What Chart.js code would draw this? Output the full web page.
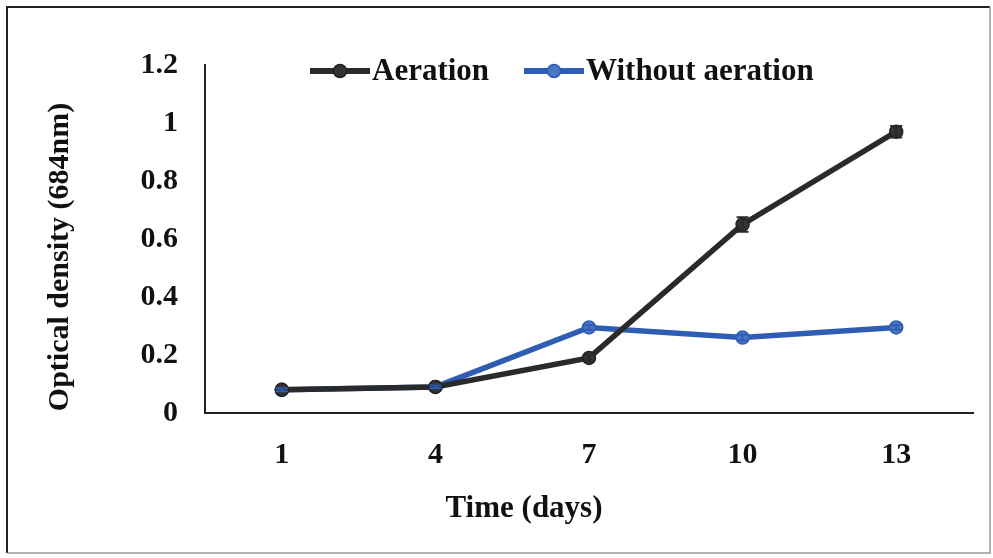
<!DOCTYPE html>
<html>
<head>
<meta charset="utf-8">
<script src="https://cdn.jsdelivr.net/npm/chart.js@4/dist/chart.umd.min.js"></script>
<style>
html,body{margin:0;padding:0;background:#fff;}
#wrap{width:993px;height:558px;position:relative;}
</style>
</head>
<body>
<div id="wrap"><canvas id="c" width="993" height="558"></canvas></div>
<script>
const days = ['1','4','7','10','13'];
const aeration = [0.08, 0.09, 0.19, 0.65, 0.97];
const aerationErr = [0.005, 0.005, 0.01, 0.025, 0.02];
const withoutAeration = [0.08, 0.09, 0.295, 0.26, 0.295];
const withoutErr = [0.005, 0.005, 0.008, 0.01, 0.008];
const seriesNames = ['Aeration', 'Without aeration'];
const yTicks = [0, 0.2, 0.4, 0.6, 0.8, 1, 1.2];
const xTitle = 'Time (days)';
const yTitle = 'Optical density (684nm)';

const BLACK = '#2a2a2a';
const BLUE = '#2f5db4';
const FONT = 'Liberation Serif';

const frame = {
  id: 'frame',
  beforeDraw(chart) {
    const ctx = chart.ctx;
    ctx.save();
    ctx.fillStyle = '#fff';
    ctx.fillRect(0, 0, chart.width, chart.height);
    ctx.strokeStyle = '#222';
    ctx.lineWidth = 2;
    ctx.beginPath();
    ctx.moveTo(7, 553); ctx.lineTo(7, 7); ctx.lineTo(990, 7);
    ctx.stroke();
    ctx.strokeStyle = '#999';
    ctx.lineWidth = 1.5;
    ctx.beginPath();
    ctx.moveTo(990, 7); ctx.lineTo(990, 553); ctx.lineTo(7, 553);
    ctx.stroke();
    ctx.restore();
  }
};

const errBars = {
  id: 'errBars',
  afterDatasetsDraw(chart) {
    const ctx = chart.ctx, y = chart.scales.y;
    const errs = [aerationErr, withoutErr];
    chart.data.datasets.forEach((ds, i) => {
      const meta = chart.getDatasetMeta(i);
      ctx.save();
      ctx.strokeStyle = ds.borderColor;
      ctx.lineWidth = 2;
      meta.data.forEach((pt, j) => {
        const v = ds.data[j], e = errs[i][j];
        const y1 = y.getPixelForValue(v + e), y2 = y.getPixelForValue(v - e);
        ctx.beginPath();
        ctx.moveTo(pt.x, y1); ctx.lineTo(pt.x, y2);
        ctx.moveTo(pt.x - 6, y1); ctx.lineTo(pt.x + 6, y1);
        ctx.moveTo(pt.x - 6, y2); ctx.lineTo(pt.x + 6, y2);
        ctx.stroke();
      });
      ctx.restore();
    });
  }
};

const textPlugin = {
  id: 'customText',
  afterDraw(chart) {
    const ctx = chart.ctx;
    const items = [
      {x: 310, text: seriesNames[0], color: BLACK, fill: '#333', stroke: '#222'},
      {x: 524, text: seriesNames[1], color: BLUE, fill: '#4a78c4', stroke: BLUE}
    ];
    const yy = 71;
    ctx.save();
    ctx.font = 'bold 31px "' + FONT + '"';
    ctx.textBaseline = 'middle';
    items.forEach(it => {
      ctx.strokeStyle = it.color;
      ctx.lineWidth = 6;
      ctx.beginPath();
      ctx.moveTo(it.x, yy); ctx.lineTo(it.x + 60, yy);
      ctx.stroke();
      ctx.beginPath();
      ctx.arc(it.x + 30, yy, 6.5, 0, Math.PI * 2);
      ctx.fillStyle = it.fill;
      ctx.fill();
      ctx.strokeStyle = it.stroke;
      ctx.lineWidth = 1.5;
      ctx.stroke();
      ctx.fillStyle = '#111';
      ctx.fillText(it.text, it.x + 62, yy + 1);
    });
    // x-axis title
    ctx.textAlign = 'center';
    ctx.fillText(xTitle, 524, 509);
    // y-axis title
    ctx.font = 'bold 30px "' + FONT + '"';
    ctx.translate(60, 257);
    ctx.rotate(-Math.PI / 2);
    ctx.fillText(yTitle, 0, 0);
    ctx.restore();
  }
};

new Chart(document.getElementById('c'), {
  type: 'line',
  data: {
    labels: days,
    datasets: [
      {
        label: seriesNames[0], data: aeration,
        borderColor: BLACK, backgroundColor: '#333',
        borderWidth: 5.5, pointRadius: 6.5, pointBorderWidth: 1.5,
        pointBorderColor: '#222', pointBackgroundColor: '#333', tension: 0
      },
      {
        label: seriesNames[1], data: withoutAeration,
        borderColor: BLUE, backgroundColor: '#4a78c4',
        borderWidth: 5.5, pointRadius: 6.5, pointBorderWidth: 1.5,
        pointBorderColor: BLUE, pointBackgroundColor: '#4a78c4', tension: 0
      }
    ]
  },
  options: {
    responsive: false,
    animation: false,
    devicePixelRatio: 1,
    layout: {padding: {left: 0, top: 65, right: 20, bottom: 0}},
    plugins: {legend: {display: false}, tooltip: {enabled: false}},
    scales: {
      x: {
        offset: true,
        grid: {display: false, drawTicks: false},
        border: {display: true, color: '#222', width: 2},
        ticks: {color: '#111', font: {family: FONT, size: 30, weight: 'bold'}, padding: 24, maxRotation: 0},
        title: {display: false},
        afterFit(s) { s.height = 145; }
      },
      y: {
        min: 0, max: 1.2,
        afterBuildTicks(s) { s.ticks = yTicks.map(v => ({value: v})); },
        grid: {display: false, drawTicks: false},
        border: {display: true, color: '#222', width: 2},
        ticks: {color: '#111', font: {family: FONT, size: 30, weight: 'bold'}, padding: 27,
                callback: v => String(v)},
        title: {display: false},
        afterFit(s) { s.width = 205; }
      }
    }
  },
  plugins: [frame, errBars, textPlugin]
});
</script>
</body>
</html>
